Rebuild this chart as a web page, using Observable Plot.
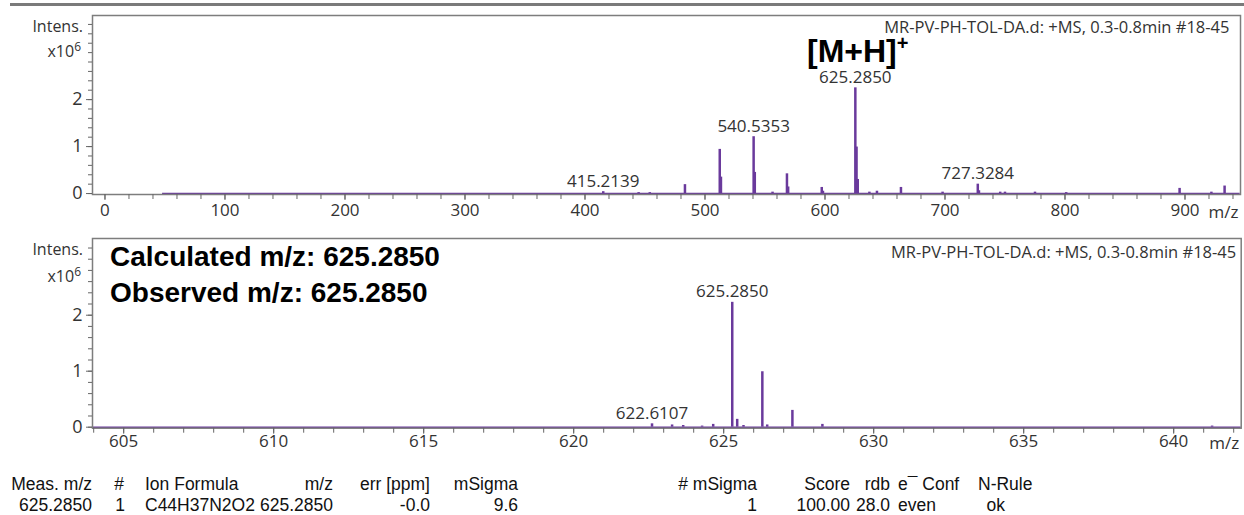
<!DOCTYPE html>
<html><head><meta charset="utf-8">
<script src="https://cdn.jsdelivr.net/npm/d3@7"></script>
<script src="https://cdn.jsdelivr.net/npm/@observablehq/plot@0.6"></script>
<style>
html,body{margin:0;padding:0;background:#fff;}
#root{position:relative;width:1244px;height:515px;overflow:hidden;background:#fff;}
.abs{position:absolute;white-space:nowrap;line-height:1;}
.ann{font-family:"Liberation Sans",Arial,sans-serif;font-weight:bold;color:#000;}
.ylab{font-family:"Open Sans",sans-serif;font-size:16px;color:#333;text-align:right;}
.ylab sup{font-size:12px;vertical-align:6px;line-height:0;}
.ann sup{font-size:20px;vertical-align:12px;line-height:0;}
.tbl{font-family:"Liberation Sans",Arial,sans-serif;font-size:17.5px;color:#111;}
</style></head><body>
<div id="root">
  <div class="abs" style="left:10px;top:3px;width:1234px;height:3px;background:#7a7a7a"></div>
  <div id="p1" class="abs" style="left:0;top:0"></div>
  <div id="p2" class="abs" style="left:0;top:220px"></div>
  <div class="abs ylab" style="right:1161px;top:18px">Intens.</div>
  <div class="abs ylab" style="right:1163px;top:43px">x10<sup>6</sup></div>
  <div class="abs ylab" style="right:1161px;top:241px">Intens.</div>
  <div class="abs ylab" style="right:1163px;top:268px">x10<sup>6</sup></div>
  <div class="abs ann" style="left:807px;top:35px;font-size:32px">[M+H]<sup>+</sup></div>
  <div class="abs ann" style="left:110px;top:243px;font-size:28px">Calculated m/z: 625.2850</div>
  <div class="abs ann" style="left:110px;top:279px;font-size:28px">Observed m/z: 625.2850</div>
  <div id="tbl"></div>
</div>
<script>
// ---- data ----
const metaText = "MR-PV-PH-TOL-DA.d: +MS, 0.3-0.8min #18-45";

// full-scan spectrum (intensity x10^6)
const topScanRange = [48, 946];
const topMz  = [415.2139, 444.7, 454.0, 483.3, 512.3, 513.3, 540.5353, 541.5, 556.3, 568.3, 569.3, 597.3, 598.3,
                625.2850, 626.29, 627.29, 637.0, 643.3, 663.3, 698.0, 727.3284, 728.3, 746.0, 750.0, 775.0, 801.0, 895.5, 922.0, 933.0];
const topInt = [0.04, 0.02, 0.02, 0.19, 0.94, 0.35, 1.21, 0.45, 0.03, 0.42, 0.14, 0.13, 0.05,
                2.25, 0.99, 0.30, 0.03, 0.05, 0.13, 0.03, 0.20, 0.06, 0.03, 0.03, 0.03, 0.02, 0.11, 0.03, 0.16];
const topLabels = [415.2139, 540.5353, 625.2850, 727.3284];
const topXTicks = [0, 100, 200, 300, 400, 500, 600, 700, 800, 900];
const topYTicks = [0, 1, 2];

// zoomed isotope pattern (intensity x10^6)
const botScanRange = [603.96, 642.25];
const botMz  = [622.6107, 623.28, 623.65, 624.28, 624.65, 625.2850, 625.45, 625.66, 626.288, 626.45, 627.29, 628.29, 641.28];
const botInt = [0.06, 0.04, 0.03, 0.02, 0.05, 2.23, 0.14, 0.03, 0.99, 0.04, 0.30, 0.05, 0.02];
const botLabels = [625.2850, 622.6107];
const botXTicks = [605, 610, 615, 620, 625, 630, 635, 640];
const botYTicks = [0, 1, 2];

// result table
const tableHeader = ["Meas. m/z", "#", "Ion Formula", "m/z", "err [ppm]", "mSigma", "# mSigma", "Score", "rdb", "e\u00AF Conf", "N-Rule"];
const tableRow    = ["625.2850", "1", "C44H37N2O2", "625.2850", "-0.0", "9.6", "1", "100.00", "28.0", "even", "ok"];

// ---- drawing ----
const purple = "#6a3a9c";
function panel(o) {
  const peaks = o.mz.map((m, i) => ({mz: m, i: o.inten[i]}));
  const labs = o.labels.map(m => ({mz: m, i: o.inten[d3.minIndex(o.mz, v => Math.abs(v - m))]}));
  return Plot.plot({
    width: 1244, height: o.height,
    marginLeft: 92, marginRight: o.mr, marginTop: o.mt, marginBottom: o.mb,
    x: {domain: o.xdom}, y: {domain: o.ydom},
    style: {fontFamily: '"Open Sans", sans-serif', fontSize: "17px", color: "#333", background: "transparent", overflow: "visible"},
    marks: [
      Plot.ruleY([0], {x1: o.scan[0], x2: o.scan[1], stroke: purple, strokeWidth: 1.5}),
      Plot.ruleX(peaks, {x: "mz", y1: 0, y2: "i", stroke: purple, strokeWidth: 2.5}),
      Plot.frame({stroke: "#7d7d7d", strokeWidth: 1.5}),
      Plot.axisX({ticks: o.xMinor, tickSize: 5, stroke: "#666", tickFormat: () => "", label: null}),
      Plot.axisX({ticks: o.xMajor, tickSize: 6, tickPadding: o.xpad, stroke: "#666", fill: "#333", fontSize: 17, label: null, tickFormat: d => String(d)}),
      Plot.axisY({ticks: o.yMinor, tickSize: 4, stroke: "#666", tickFormat: () => "", label: null}),
      Plot.axisY({ticks: o.yMajor, tickSize: 6, tickPadding: 4, stroke: "#666", fill: "#333", fontSize: 18, label: null, tickFormat: d => String(d)}),
      Plot.text(labs, {x: "mz", y: "i", text: d => d.mz.toFixed(4), lineAnchor: "bottom", dy: -5, fill: "#333", fontSize: 17}),
      Plot.text([metaText], {frameAnchor: "top-right", textAnchor: "end", lineAnchor: "top", dx: o.metaDx, dy: o.metaDy, fill: "#333", fontSize: 16.5}),
      Plot.text(["m/z"], {frameAnchor: "bottom-right", textAnchor: "end", lineAnchor: "middle", dx: -2, dy: o.mzDy, fill: "#333", fontSize: 17})
    ]
  });
}

document.getElementById("p1").append(panel({
  height: 220, mt: 15, mb: 26, mr: 4,
  xdom: [-10.4, 946.25], ydom: [-0.02, 3.79], scan: topScanRange,
  mz: topMz, inten: topInt, labels: topLabels,
  xMajor: topXTicks, xMinor: d3.range(0, 941, 20),
  yMajor: topYTicks, yMinor: d3.range(0, 3.79, 0.2),
  xpad: 3, mzDy: 18, metaDx: -11, metaDy: 6
}));

document.getElementById("p2").append(panel({
  height: 235, mt: 18, mb: 27.3, mr: 3.3,
  xdom: [603.96, 642.25], ydom: [-0.018, 3.37], scan: botScanRange,
  mz: botMz, inten: botInt, labels: botLabels,
  xMajor: botXTicks, xMinor: d3.range(604, 643, 1),
  yMajor: botYTicks, yMinor: d3.range(0, 3.37, 0.2),
  xpad: 1, mzDy: 15.5, metaDx: -5, metaDy: 8
}));

// table
const colLayout = [
  {hx: 92, ha: "end", dx: 92, da: "end"},
  {hx: 119, ha: "middle", dx: 120, da: "middle"},
  {hx: 145, ha: "start", dx: 145, da: "start"},
  {hx: 333, ha: "end", dx: 333, da: "end"},
  {hx: 430, ha: "end", dx: 430, da: "end"},
  {hx: 518, ha: "end", dx: 518, da: "end"},
  {hx: 757, ha: "end", dx: 757, da: "end"},
  {hx: 850, ha: "end", dx: 850, da: "end"},
  {hx: 890, ha: "end", dx: 890, da: "end"},
  {hx: 898, ha: "start", dx: 898, da: "start"},
  {hx: 978, ha: "start", dx: 1005, da: "end"}
];
const tbl = document.getElementById("tbl");
function cell(text, x, anchor, top) {
  const s = document.createElement("div");
  s.className = "abs tbl";
  s.textContent = text;
  s.style.top = top + "px";
  if (anchor === "end") s.style.right = (1244 - x) + "px";
  else if (anchor === "middle") { s.style.left = x + "px"; s.style.transform = "translateX(-50%)"; }
  else s.style.left = x + "px";
  tbl.append(s);
}
tableHeader.forEach((h, i) => cell(h, colLayout[i].hx, colLayout[i].ha, 476));
tableRow.forEach((v, i) => cell(v, colLayout[i].dx, colLayout[i].da, 497));
</script>
</body></html>
